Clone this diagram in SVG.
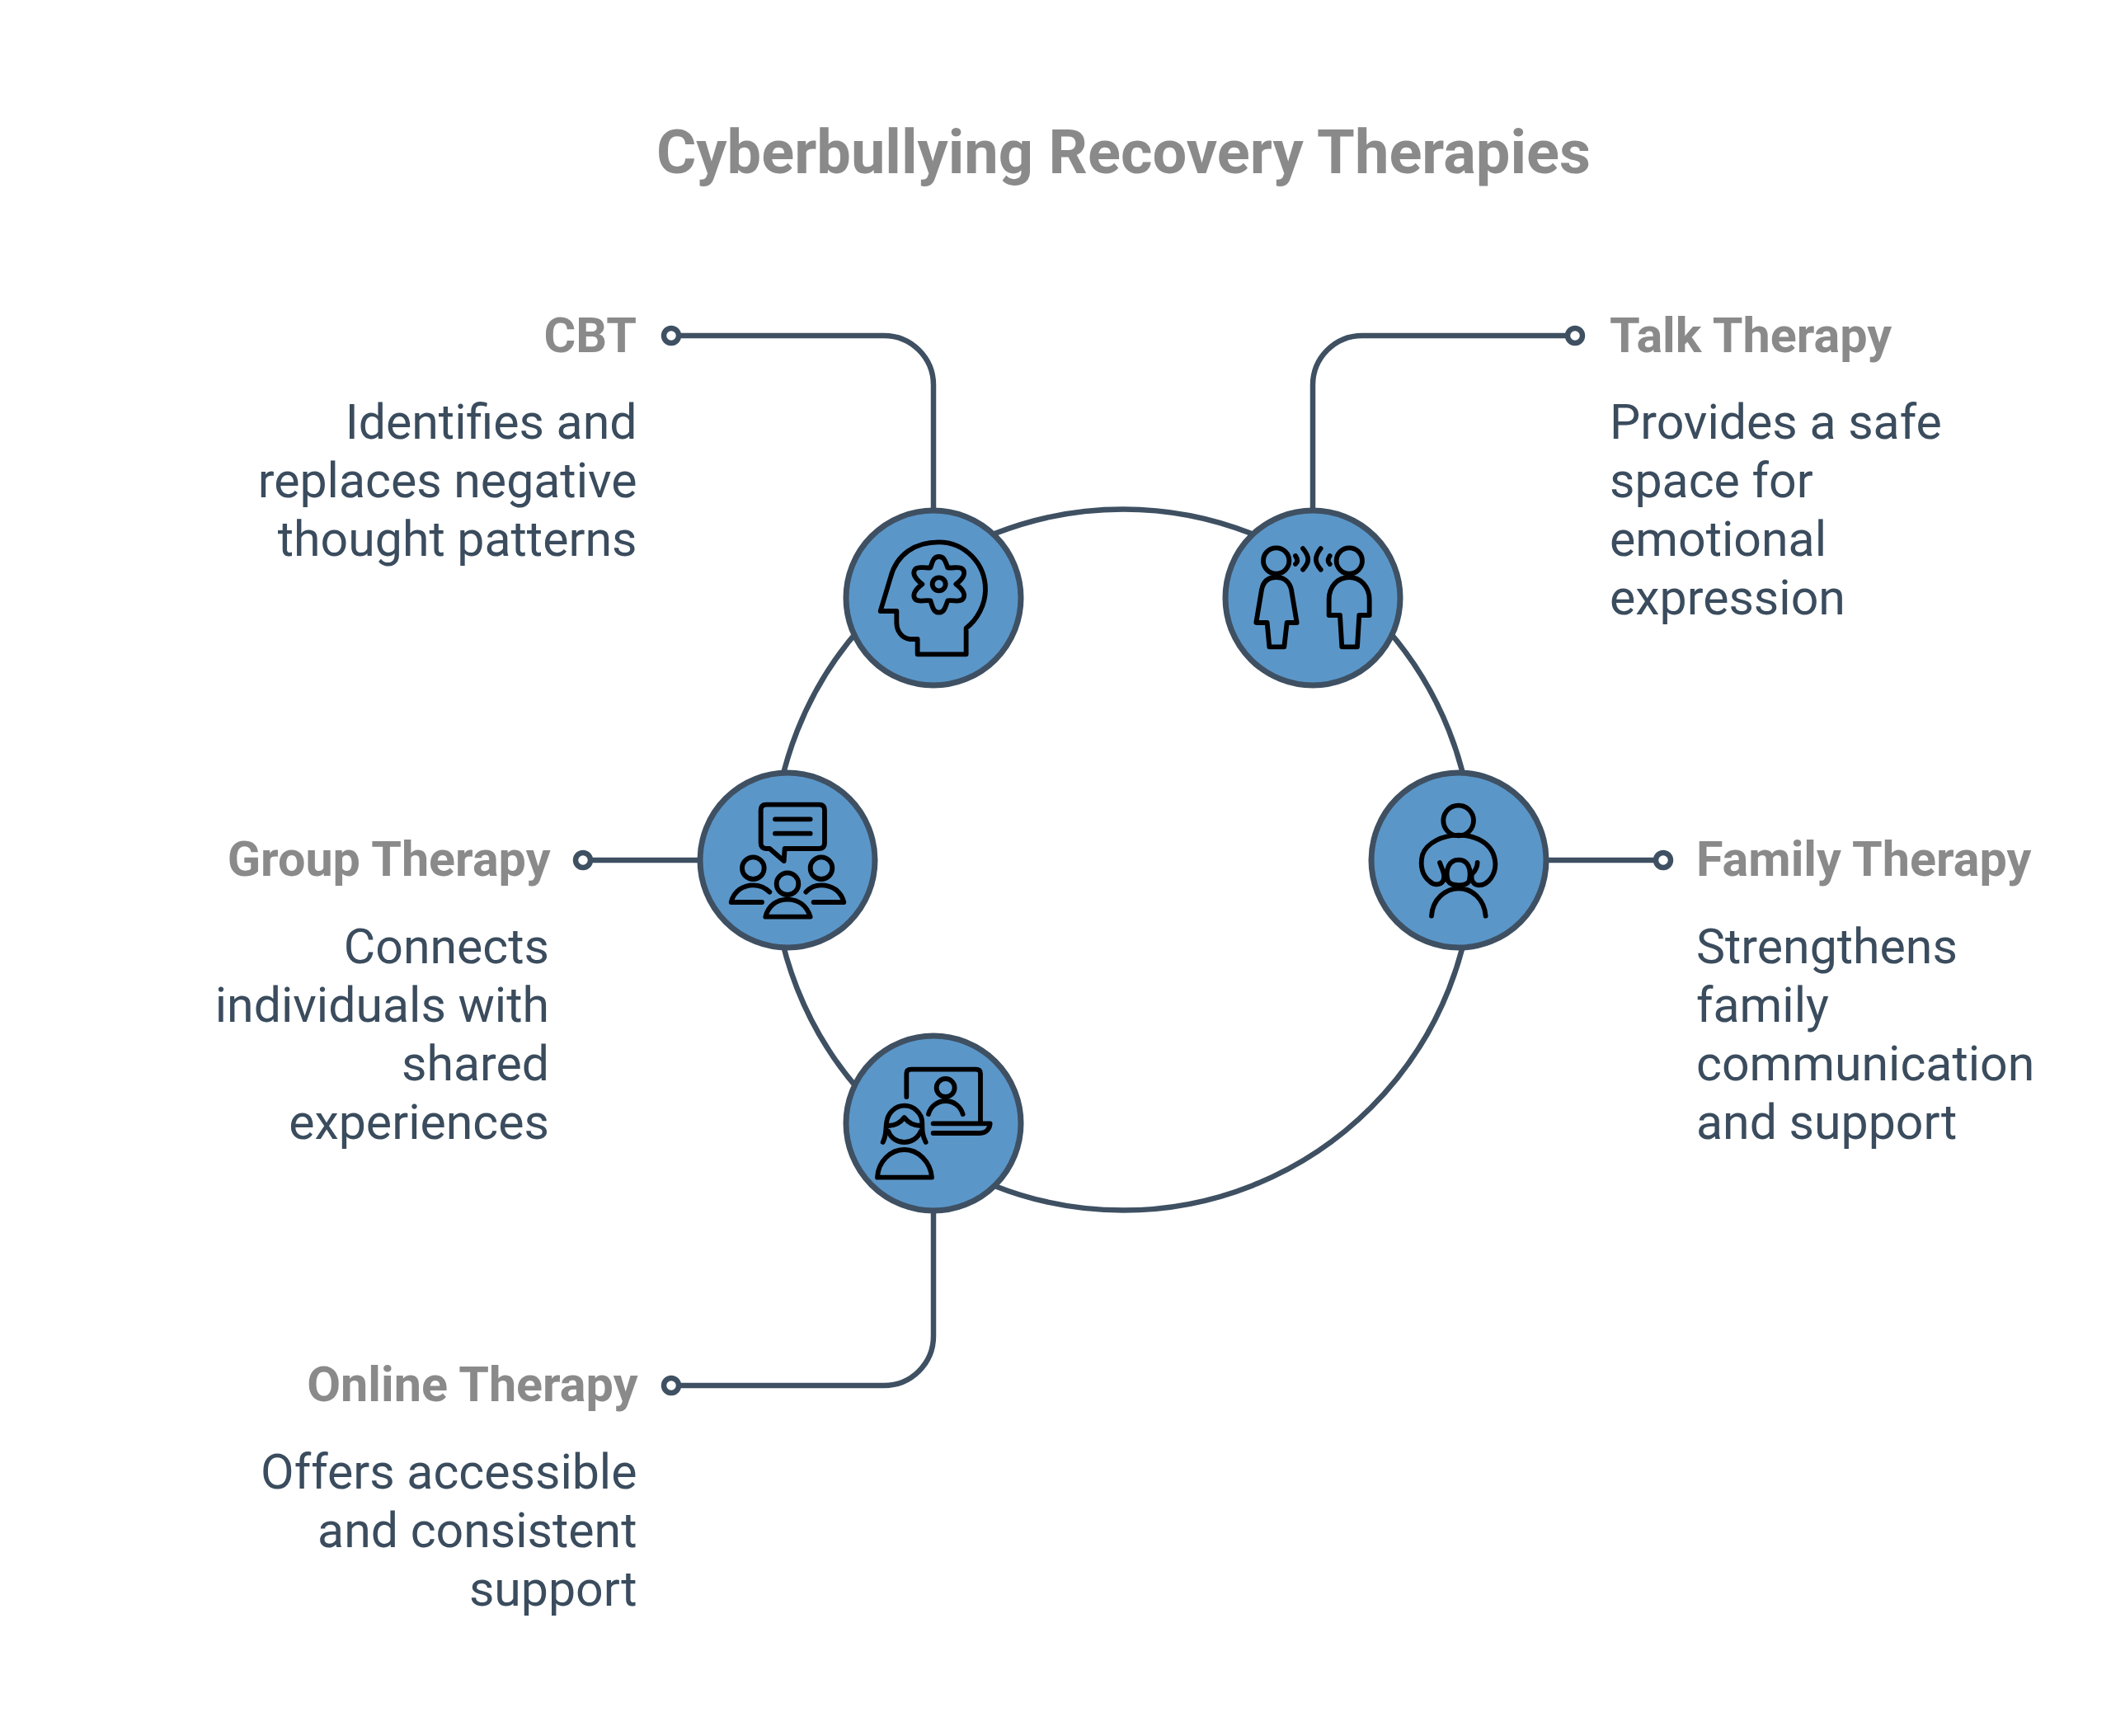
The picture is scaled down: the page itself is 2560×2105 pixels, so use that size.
<svg xmlns="http://www.w3.org/2000/svg" width="2560" height="2105" viewBox="0 0 2560 2105">
<style>
text{font-family:Roboto,"Liberation Sans",sans-serif}
.t{font-size:74px;font-weight:700;fill:#8a8a8a}
.h{font-size:59.3px;font-weight:700;fill:#8a8a8a}
.b{font-size:59px;font-weight:400;fill:#3a4c5d}
.e{text-anchor:end}
.c{fill:none;stroke:#3e5062;stroke-width:6.5}
.d{fill:#fff;stroke:#3e5062;stroke-width:6.5}
.n{fill:#5b96c8;stroke:#3e5062;stroke-width:7}
.i{fill:none;stroke:#000;stroke-width:17.5;stroke-linecap:round;stroke-linejoin:round}
</style>
<rect width="2560" height="2105" fill="#fff"/>
<text class="t" x="1362.500" y="210" text-anchor="middle">Cyberbullying Recovery Therapies</text>
<g id="connectors">
<circle class="c" cx="1362" cy="1042.500" r="425"/>
<path class="c" d="M823 407H1072A60 60 0 0 1 1132 467V620"/>
<circle class="d" cx="814" cy="407" r="9"/>
<path class="c" d="M1901 407H1652A60 60 0 0 0 1592 467V620"/>
<circle class="d" cx="1910" cy="407" r="9"/>
<path class="c" d="M1874 1043H2008"/>
<circle class="d" cx="2017" cy="1043" r="9"/>
<path class="c" d="M850 1043H716"/>
<circle class="d" cx="707" cy="1043" r="9"/>
<path class="c" d="M823 1680H1072A60 60 0 0 0 1132 1620V1468"/>
<circle class="d" cx="814" cy="1680" r="9"/>
</g>
<g id="node-cbt">
<circle class="n" cx="1132" cy="725" r="106"/>
<g class="i" transform="translate(1000,600) scale(.3333)">
<path d="M203 423L240 300C262 215 330 172 415 172C510 172 585 250 585 345C585 400 555 455 515 485L515 580L338 580L338 525L310 525C280 522 262 495 262 465L262 423Z"/>
<path d="M385 265C392 245 395 225 416 225C437 225 440 245 448 265C470 268 490 258 502 270C515 285 505 305 478 325C505 345 515 365 502 380C490 392 470 382 448 385C440 405 437 428 416 428C395 428 392 405 385 385C362 382 342 392 330 380C318 365 328 345 355 325C328 305 318 285 330 270C342 258 362 268 385 265Z"/>
<circle cx="416" cy="325" r="24"/>
</g>
<text class="h e" x="772" y="426.500">CBT</text>
<text class="b e"><tspan x="772.500" y="532">Identifies and</tspan><tspan x="772.500" y="603">replaces negative</tspan><tspan x="772.500" y="674">thought patterns</tspan></text>
</g>
<g id="node-talk">
<circle class="n" cx="1592" cy="725" r="106"/>
<g class="i" transform="translate(1470,600) scale(.3333)">
<circle cx="233" cy="240" r="47"/>
<path d="M233 300C200 300 185 320 180 345L160 465L200 465L208 553L262 553L272 465L308 465L288 345C282 320 265 300 233 300Z"/>
<path d="M303 222C312 235 312 245 303 252M330 195C355 225 355 245 330 272M395 195C372 225 372 245 395 272M428 222C420 235 420 245 428 252"/>
<circle cx="499" cy="240" r="47"/>
<path d="M499 300C455 300 425 335 425 380L425 438L465 438L472 553L528 553L535 438L572 438L572 380C572 335 540 300 499 300Z"/>
</g>
<text class="h" x="1952" y="426.500">Talk Therapy</text>
<text class="b"><tspan x="1952" y="532">Provides a safe</tspan><tspan x="1952" y="602.500">space for</tspan><tspan x="1952" y="673.500">emotional</tspan><tspan x="1952" y="744.500">expression</tspan></text>
</g>
<g id="node-family">
<circle class="n" cx="1769" cy="1043" r="106"/>
<g class="i" transform="translate(1650,920) scale(.3333)">
<circle cx="356" cy="225" r="55"/>
<path d="M288 378C295 400 310 420 300 445C290 462 265 460 250 445C225 425 215 390 225 350C240 305 300 278 356 278C415 278 485 305 490 380C492 420 465 460 430 460C410 460 400 440 405 420C415 410 425 395 425 378"/>
<path d="M318 445C305 400 325 368 356 368C390 368 405 400 395 445C385 465 330 465 318 445Z"/>
<path d="M258 572C262 510 310 472 356 472C405 472 450 510 455 572"/>
</g>
<text class="h" x="2057" y="1062">Family Therapy</text>
<text class="b"><tspan x="2057" y="1168">Strengthens</tspan><tspan x="2057" y="1238.500">family</tspan><tspan x="2057" y="1309.500">communication</tspan><tspan x="2057" y="1380.500">and support</tspan></text>
</g>
<g id="node-group">
<circle class="n" cx="955" cy="1043" r="106"/>
<g class="i" transform="translate(830,920) scale(.3333)">
<path d="M298 167L490 167Q510 167 510 187L510 307Q510 327 490 327L365 327L362 372L310 327L298 327Q278 327 278 307L278 187Q278 167 298 167Z"/>
<path d="M330 220H458M330 272H458"/>
<circle cx="250" cy="398" r="40"/>
<path d="M282 522L170 522C180 480 215 460 250 460C275 460 295 470 310 485"/>
<circle cx="498" cy="398" r="40"/>
<path d="M470 522L580 522C570 480 535 460 498 460C475 460 455 470 442 485"/>
<circle cx="375" cy="455" r="40"/>
<path d="M295 575C305 535 335 512 375 512C415 512 445 535 458 575Z"/>
</g>
<text class="h e" x="667.500" y="1062">Group Therapy</text>
<text class="b e"><tspan x="666" y="1168">Connects</tspan><tspan x="666" y="1238.500">individuals with</tspan><tspan x="666" y="1309.500">shared</tspan><tspan x="666" y="1380.500">experiences</tspan></text>
</g>
<g id="node-online">
<circle class="n" cx="1132" cy="1362" r="106"/>
<g class="i" transform="translate(1000,1240) scale(.3333)">
<path d="M298 270L298 185Q298 170 315 170L550 170Q567 170 567 185L567 365"/>
<path d="M395 367L602 367C600 385 590 402 565 402L395 402"/>
<circle cx="440" cy="237" r="33"/>
<path d="M378 333C385 305 410 285 440 285C470 285 495 305 503 333"/>
<path d="M212 435C225 410 222 390 225 365C230 325 260 302 290 302C325 302 355 330 355 365C355 390 355 410 368 435"/>
<path d="M232 375C255 375 275 365 290 345C305 365 325 375 350 375"/>
<path d="M232 395C240 420 265 435 290 435C315 435 340 420 350 395"/>
<path d="M192 563C195 505 240 462 290 462C340 462 385 505 390 563Z"/>
</g>
<text class="h e" x="773.500" y="1699">Online Therapy</text>
<text class="b e"><tspan x="772.500" y="1805">Offers accessible</tspan><tspan x="772.500" y="1875.500">and consistent</tspan><tspan x="772.500" y="1946.500">support</tspan></text>
</g>
</svg>
